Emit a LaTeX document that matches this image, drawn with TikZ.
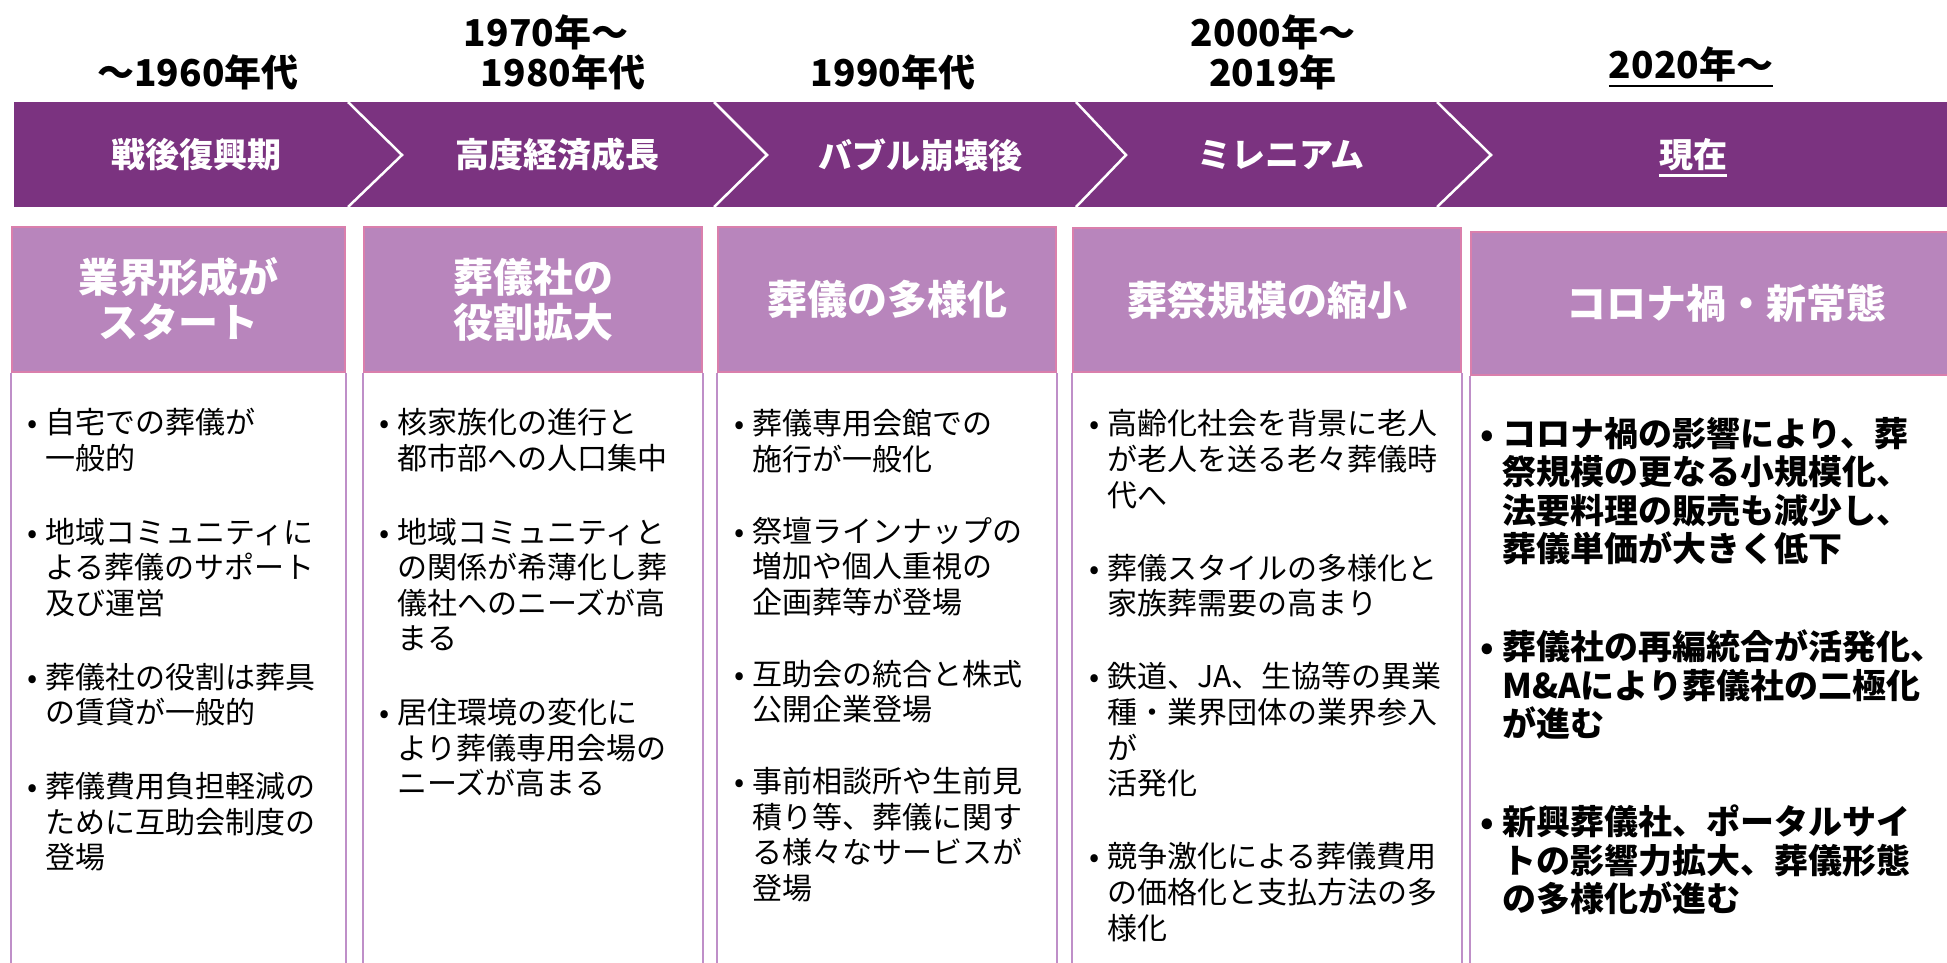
\documentclass[tikz,border=0pt]{standalone}
\usepackage{fontspec}
\newfontfamily\jp{Noto Sans CJK JP}
\usetikzlibrary{calc}
\definecolor{bandc}{HTML}{7B3380}
\definecolor{hdrfill}{HTML}{B885BC}
\definecolor{hdrline}{HTML}{DA7FAC}
\definecolor{sideline}{HTML}{BF8FC8}
\newcommand{\mybul}{\llap{\makebox[26pt][c]{•}}}
\newcommand{\mybulb}{\llap{\makebox[30pt][c]{•}}}
\newcommand{\mystrut}{\rule{0pt}{1em}}
\tikzset{
  yearlbl/.style={font=\jp\bfseries\fontsize{37}{40}\selectfont, inner sep=0pt, text=black},
  bandlbl/.style={font=\jp\bfseries\fontsize{34}{38}\selectfont, text=white, inner sep=0pt},
  hdrbox/.style={fill=hdrfill, draw=hdrline, line width=2pt, font=\jp\bfseries\fontsize{40}{45}\selectfont, text=white, align=center, inner sep=0pt},
  side/.style={draw=sideline, line width=2.5pt},
  bodytxt/.style={font=\jp\fontsize{30}{35.5}\selectfont, align=left, anchor=north west, inner sep=0pt, text=black},
  bodybold/.style={font=\jp\bfseries\fontsize{34}{38.5}\selectfont, align=left, anchor=north west, inner sep=0pt, text=black},
  chev/.style={draw=white, line width=2.5pt}
}
\begin{document}
\begin{tikzpicture}[x=1pt,y=-1pt]
\useasboundingbox (0,0) rectangle (1947,962);
\fill[white] (0,0) rectangle (1947,962);
% band
\fill[bandc] (14,102) rectangle (1947,207);
\draw[chev] (348,102) -- (402,155) -- (348,207);
\draw[chev] (714,102) -- (767,155) -- (714,207);
\draw[chev] (1076,102) -- (1126,155) -- (1076,207);
\draw[chev] (1437,102) -- (1491,155) -- (1437,207);
% year labels
\node[yearlbl] (y1) at (198,72) {～1960年代};
\node[yearlbl] (y2a) at (546,32) {1970年～};
\node[yearlbl] (y2b) at (563,72) {1980年代};
\node[yearlbl] (y3) at (893,72) {1990年代};
\node[yearlbl] (y4a) at (1273,32) {2000年～};
\node[yearlbl] (y4b) at (1273,72) {2019年};
\node[yearlbl] (y5) at (1691,64) {2020年～};
\draw[line width=2.5pt] ($(y5.south west)+(0,4)$) -- ($(y5.south east)+(0,4)$);
% band labels
\node[bandlbl] (b1) at (196,155) {戦後復興期};
\node[bandlbl] (b2) at (557,155) {高度経済成長};
\node[bandlbl] (b3) at (920,155) {バブル崩壊後};
\node[bandlbl] (b4) at (1281,155) {ミレニアム};
\node[bandlbl] (b5) at (1693,155) {現在};
\draw[white, line width=2.5pt] ($(b5.south west)+(0,4)$) -- ($(b5.south east)+(0,4)$);
% headers
\node[hdrbox, minimum width=333pt, minimum height=145pt] (h1) at (178.5,299.5) {業界形成が\\スタート};
\node[hdrbox, minimum width=338pt, minimum height=145pt] (h2) at (533,299.5) {葬儀社の\\役割拡大};
\node[hdrbox, minimum width=338pt, minimum height=145pt] (h3) at (887,299.5) {葬儀の多様化};
\node[hdrbox, minimum width=388pt, minimum height=144pt] (h4) at (1267,300) {葬祭規模の縮小};
\node[hdrbox, minimum width=510pt, minimum height=143pt] (h5) at (1726,303.5) {コロナ禍・新常態};
% side lines
\foreach \h in {h1,h2,h3,h4} {
  \draw[side] (\h.south west) -- ++(0,620);
  \draw[side] (\h.south east) -- ++(0,620);
}
\draw[side] (h5.south west) -- ++(0,620);
% bodies
\node[bodytxt] (t1) at (45,403.4) {\mystrut\mybul 自宅での葬儀が\\一般的\\[38.5pt]
\mybul 地域コミュニティに\\よる葬儀のサポート\\及び運営\\[38.5pt]
\mybul 葬儀社の役割は葬具\\の賃貸が一般的\\[38.5pt]
\mybul 葬儀費用負担軽減の\\ために互助会制度の\\登場};
\node[bodytxt] (t2) at (397,403.4) {\mystrut\mybul 核家族化の進行と\\都市部への人口集中\\[38.5pt]
\mybul 地域コミュニティと\\の関係が希薄化し葬\\儀社へのニーズが高\\まる\\[38.5pt]
\mybul 居住環境の変化に\\より葬儀専用会場の\\ニーズが高まる};
\node[bodytxt] (t3) at (752,404.4) {\mystrut\mybul 葬儀専用会館での\\施行が一般化\\[36.5pt]
\mybul 祭壇ラインナップの\\増加や個人重視の\\企画葬等が登場\\[36.5pt]
\mybul 互助会の統合と株式\\公開企業登場\\[36.5pt]
\mybul 事前相談所や生前見\\積り等、葬儀に関す\\る様々なサービスが\\登場};
\node[bodytxt, font=\jp\fontsize{30}{35.7}\selectfont] (t4) at (1107,404.4) {\mystrut\mybul 高齢化社会を背景に老人\\が老人を送る老々葬儀時\\代へ\\[37.3pt]
\mybul 葬儀スタイルの多様化と\\家族葬需要の高まり\\[37.3pt]
\mybul 鉄道、JA、生協等の異業\\種・業界団体の業界参入\\が\\活発化\\[37.3pt]
\mybul 競争激化による葬儀費用\\の価格化と支払方法の多\\様化};
\node[bodybold] (t5) at (1502,412) {\mystrut\mybulb コロナ禍の影響により、葬\\祭規模の更なる小規模化、\\法要料理の販売も減少し、\\葬儀単価が大きく低下\\[59.5pt]
\mybulb 葬儀社の再編統合が活発化、\\M\&Aにより葬儀社の二極化\\が進む\\[59.5pt]
\mybulb 新興葬儀社、ポータルサイ\\トの影響力拡大、葬儀形態\\の多様化が進む};
\end{tikzpicture}
\end{document}
